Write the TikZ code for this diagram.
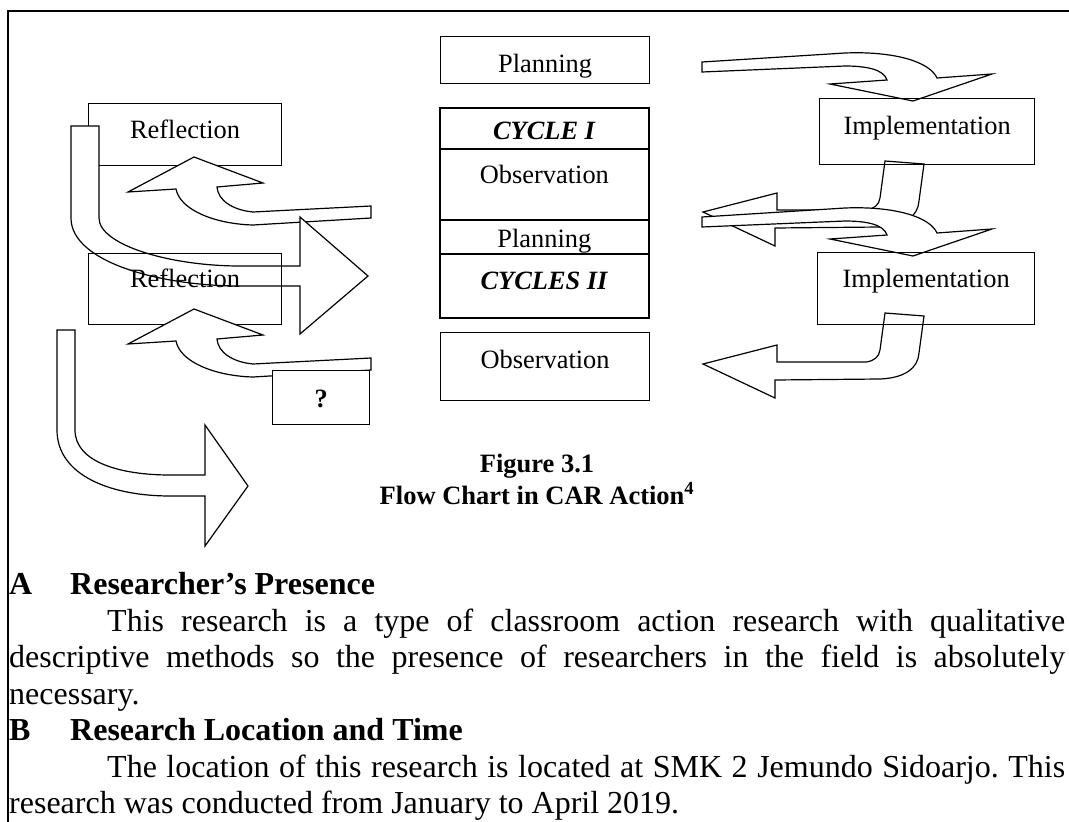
\documentclass[tikz,border=0pt]{standalone}
\usepackage{fontspec}
\setmainfont{Liberation Serif}
\usepackage{tikz}

\newcommand{\diagfont}{\fontsize{26.4}{30}\selectfont}
\newcommand{\capfont}{\fontsize{26.5}{31}\selectfont\bfseries}
\newcommand{\bodyfont}{\fontsize{32}{36.5}\selectfont}
\frenchspacing

\begin{document}
\begin{tikzpicture}[x=1pt,y=-1pt,line join=miter]
	\tikzset{every node/.style={font=\diagfont}}
	\tikzset{tbox/.style={draw,line width=1.2pt,inner sep=0pt,anchor=north west}}
	\tikzset{cell/.style={tbox,line width=1.8pt,minimum width=209pt}}
	\tikzset{blk/.style={draw,line width=1.2pt,fill=white}}
	\tikzset{upcurl/.pic={\draw[blk] (128,192) -- (194,157) -- (263,183) -- (217,187) .. controls (218,200) and (232,210) .. (253,212) -- (371,206) -- (371,218) -- (253,225) .. controls (215,224) and (180,210) .. (176,189) -- cycle;}}
	\tikzset{downcurl/.pic={\draw[blk] (702,62) -- (845,53) .. controls (895,51) and (930,62) .. (937,78) -- (992,74) -- (913,101) -- (830,84) -- (887,80) .. controls (884,70) and (868,66) .. (845,66) -- (702,72) -- cycle;}}
	\tikzset{backcurl/.pic={\draw[blk] (885,313) -- (880,350) .. controls (879,357) and (874,361) .. (866,362) -- (777,362) -- (777,345) -- (703,364) -- (775,398) -- (775,380) -- (880,379) .. controls (905,378) and (918,368) .. (919,353) -- (924,316) -- cycle;}}
	\useasboundingbox (0,0) rectangle (1069,822);
	\draw[line width=2pt] (8,822) -- (8,11) -- (1069,11);
	
	% left column
	\node[tbox,minimum width=193pt,text height=34.7pt,text depth=27.3pt] (refl1) at (88,103) {Reflection};
	\pic (ua1) at (0,0) {upcurl};
	\draw[blk] (99,126) -- (71,126) -- (71,218) .. controls (71,262) and (160,286) .. (240,286) -- (300,286) -- (300,334) -- (368,276) -- (300,217) -- (300,266) -- (240,266) .. controls (170,266) and (99,245) .. (99,218) -- cycle;
	\node[tbox,minimum width=193pt,text height=34.3pt,text depth=36.7pt] (refl2) at (88,253) {Reflection};
	\pic (ua2) at (0,152) {upcurl};
	\node[tbox,fill=white,minimum width=97pt,text height=37pt,text depth=17pt] (quest) at (272,370) {\textbf{?}};
	\draw[blk] (75,330) -- (57,330) -- (57,430) .. controls (57,475) and (110,496) .. (170,496) -- (205,496) -- (205,546) -- (248,486) -- (205,425) -- (205,475) -- (170,475) .. controls (120,475) and (75,462) .. (75,430) -- cycle;
	
	% middle column
	\node[tbox,minimum width=209pt,text height=35.7pt,text depth=11.3pt] (plan1) at (440,36) {Planning};
	\node[cell,text height=31.3pt,text depth=9.7pt] (cyc1) at (439,107) {\textbf{\textit{CYCLE I}}};
	\node[cell,text height=34.7pt,text depth=36.3pt] (obs1) at (439,148) {Observation};
	\node[cell,text height=27.7pt,text depth=6.3pt] (plan2) at (439,219) {Planning};
	\node[cell,text height=35.3pt,text depth=28.7pt] (cyc2) at (439,253) {\textbf{\textit{CYCLES II}}};
	\node[tbox,minimum width=209pt,text height=36pt,text depth=32pt] (obs2) at (440,332) {Observation};
	
	% right column
	\pic (dc1) at (0,0) {downcurl};
	\pic (bc1) at (0,-152) {backcurl};
	\pic (dc2) at (0,155) {downcurl};
	\pic (bc2) at (0,0) {backcurl};
	\node[tbox,minimum width=215pt,text height=36pt,text depth=30pt] (impl1) at (819,98) {Implementation};
	\node[tbox,minimum width=217pt,text height=35pt,text depth=37pt] (impl2) at (817,252) {Implementation};
	
	\node[font=\capfont,anchor=base] (cap1) at (537,472.7) {Figure 3.1};
	\node[font=\capfont,anchor=base] (cap2) at (537,504) {Flow Chart in CAR Action\textsuperscript{4}};
	\node[font=\bodyfont,anchor=base west,inner sep=0pt,text width=1056pt,align=justify] (body) at (9,594.7) {\parindent=0pt\frenchspacing
		\textbf{\makebox[61pt][l]{A}Researcher's Presence}\par
		\hspace*{98pt}This research is a type of classroom action research with qualitative\linebreak descriptive methods so the presence of researchers in the field is absolutely\linebreak necessary.\par
		\textbf{\makebox[61pt][l]{B}Research Location and Time}\par
		\hspace*{98pt}The location of this research is located at SMK 2 Jemundo Sidoarjo. This\linebreak research was conducted from January to April 2019.};
\end{tikzpicture}
\end{document}
